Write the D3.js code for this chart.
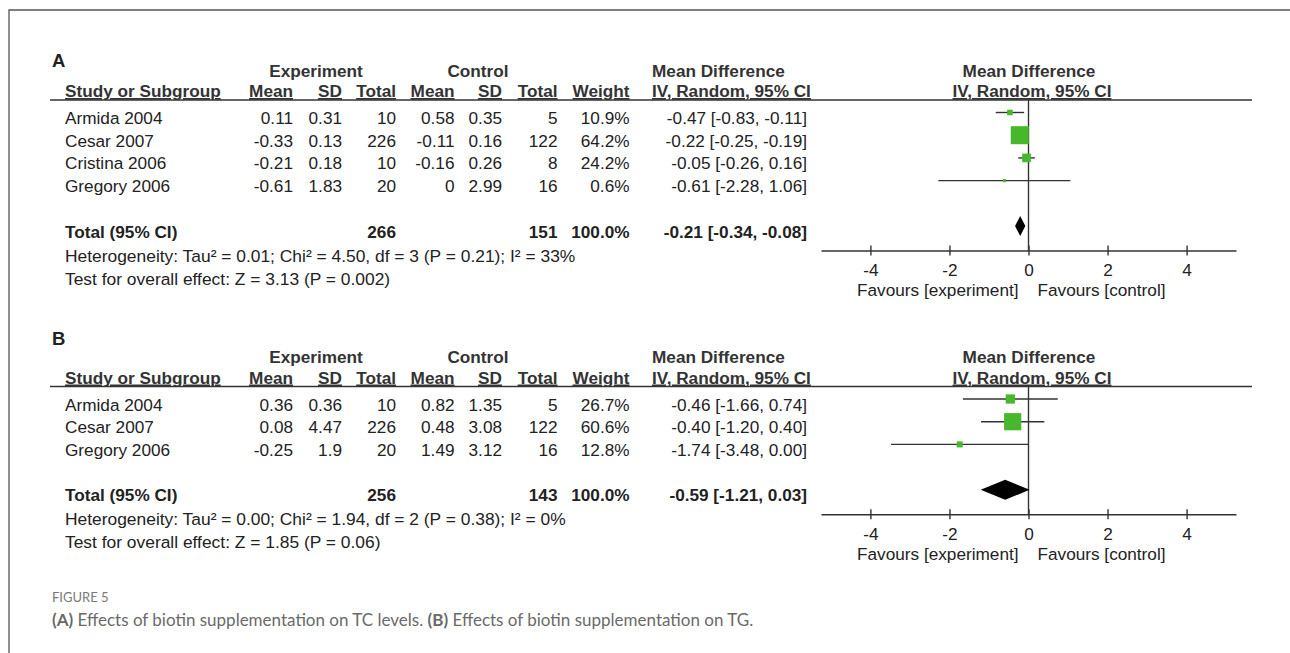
<!DOCTYPE html>
<html>
<head>
<meta charset="utf-8">
<script src="https://cdn.jsdelivr.net/npm/d3@7"></script>
<style>
  body { margin: 0; background: #fff; }
  text { font-family: 'Liberation Sans', Arial, sans-serif; font-size: 17.2px; fill: #222; }
  .bold { font-weight: bold; }
  .head { font-weight: bold; fill: #333; }
  .ul { text-decoration: underline; }
  .caption { font-family: Lato, 'Open Sans', sans-serif; }
</style>
</head>
<body>
<svg id="chart" width="1290" height="653"></svg>
<script>
/* global d3 */

// panel A: TC levels
var studiesA = ['Armida 2004', 'Cesar 2007', 'Cristina 2006', 'Gregory 2006']
var expMeanA = [0.11, -0.33, -0.21, -0.61]
var expSdA = [0.31, 0.13, 0.18, 1.83]
var expNA = [10, 226, 10, 20]
var ctlMeanA = [0.58, -0.11, -0.16, 0]
var ctlSdA = [0.35, 0.16, 0.26, 2.99]
var ctlNA = [5, 122, 8, 16]
var weightA = [10.9, 64.2, 24.2, 0.6]
var mdA = [-0.47, -0.22, -0.05, -0.61]
var loA = [-0.83, -0.25, -0.26, -2.28]
var hiA = [-0.11, -0.19, 0.16, 1.06]
var totalA = {expN: 266, ctlN: 151, md: -0.21, lo: -0.34, hi: -0.08}
var hetA = 'Heterogeneity: Tau² = 0.01; Chi² = 4.50, df = 3 (P = 0.21); I² = 33%'
var testA = 'Test for overall effect: Z = 3.13 (P = 0.002)'

// panel B: TG
var studiesB = ['Armida 2004', 'Cesar 2007', 'Gregory 2006']
var expMeanB = [0.36, 0.08, -0.25]
var expSdB = [0.36, 4.47, 1.9]
var expNB = [10, 226, 20]
var ctlMeanB = [0.82, 0.48, 1.49]
var ctlSdB = [1.35, 3.08, 3.12]
var ctlNB = [5, 122, 16]
var weightB = [26.7, 60.6, 12.8]
var mdB = [-0.46, -0.40, -1.74]
var loB = [-1.66, -1.20, -3.48]
var hiB = [0.74, 0.40, 0.00]
var totalB = {expN: 256, ctlN: 143, md: -0.59, lo: -1.21, hi: 0.03}
var hetB = 'Heterogeneity: Tau² = 0.00; Chi² = 1.94, df = 2 (P = 0.38); I² = 0%'
var testB = 'Test for overall effect: Z = 1.85 (P = 0.06)'

var axisTicks = [-4, -2, 0, 2, 4]
var axisDomain = [-5.25, 5.25]
var favours = ['Favours [experiment]', 'Favours [control]']

function buildRows (studies, expMean, expSd, expN, ctlMean, ctlSd, ctlN, weight, md, lo, hi) {
  return studies.map(function (s, i) {
    return {
      study: s,
      expMean: String(expMean[i]),
      expSD: String(expSd[i]),
      expN: String(expN[i]),
      ctlMean: String(ctlMean[i]),
      ctlSD: String(ctlSd[i]),
      ctlN: String(ctlN[i]),
      weight: weight[i].toFixed(1) + '%',
      w: weight[i],
      md: md[i],
      lo: lo[i],
      hi: hi[i]
    }
  })
}

var svg = d3.select('#chart')

// frame, top and left edges only
svg.append('path')
  .attr('d', 'M9,653V10H1290')
  .attr('fill', 'none')
  .attr('stroke', '#555')
  .attr('stroke-width', 1.3)

var cols = [
  {key: 'expMean', x: 293, head: 'Mean'},
  {key: 'expSD', x: 342, head: 'SD'},
  {key: 'expN', x: 396, head: 'Total'},
  {key: 'ctlMean', x: 454.5, head: 'Mean'},
  {key: 'ctlSD', x: 502, head: 'SD'},
  {key: 'ctlN', x: 557.5, head: 'Total'},
  {key: 'weight', x: 629.5, head: 'Weight'}
]
var ciRight = 807

var x = d3.scaleLinear().domain(axisDomain).range([821, 1236])
var size = d3.scaleLinear().domain([0, 100]).range([3, 26.4])

function ci (d) {
  return d.md.toFixed(2) + ' [' + d.lo.toFixed(2) + ', ' + d.hi.toFixed(2) + ']'
}

function drawPanel (p) {
  var g = svg.append('g').attr('transform', 'translate(0,' + p.dy + ')')
  var n = p.rows.length
  var rowY = d3.scaleLinear().domain([0, 1]).range([124, 124 + 22.7])
  var totalY = rowY(n + 1)
  var axisY = totalY + 13
  var mark = -11.5

  g.append('text').attr('class', 'bold').attr('x', 52).attr('y', p.labelY)
    .style('font-size', '18.5px').text(p.label)

  // group headers
  g.append('text').attr('class', 'head').attr('x', 316).attr('y', 76.5)
    .attr('text-anchor', 'middle').text('Experiment')
  g.append('text').attr('class', 'head').attr('x', 478).attr('y', 76.5)
    .attr('text-anchor', 'middle').text('Control')
  g.append('text').attr('class', 'head').attr('x', 652).attr('y', 76.5).text('Mean Difference')
  g.append('text').attr('class', 'head').attr('x', 1029).attr('y', 76.5)
    .attr('text-anchor', 'middle').text('Mean Difference')

  // column headers
  g.append('text').attr('class', 'head ul').attr('x', 65).attr('y', 97).text('Study or Subgroup')
  g.selectAll('.colhead')
      .data(cols)
    .enter().append('text')
      .attr('class', 'head ul')
      .attr('x', function (d) { return d.x })
      .attr('y', 97)
      .attr('text-anchor', 'end')
      .text(function (d) { return d.head })
  g.append('text').attr('class', 'head ul').attr('x', 652).attr('y', 97).text('IV, Random, 95% CI')
  g.append('text').attr('class', 'head ul').attr('x', 1032).attr('y', 97)
    .attr('text-anchor', 'middle').text('IV, Random, 95% CI')

  g.append('line')
    .attr('x1', 50).attr('x2', 1252).attr('y1', 100).attr('y2', 100)
    .attr('stroke', '#333').attr('stroke-width', 1.4)

  // study rows
  var row = g.selectAll('.row')
      .data(p.rows)
    .enter().append('g')
      .attr('transform', function (d, i) { return 'translate(0,' + rowY(i) + ')' })
  row.append('text').attr('x', 65).text(function (d) { return d.study })
  cols.forEach(function (c) {
    row.append('text').attr('x', c.x).attr('text-anchor', 'end')
      .text(function (d) { return d[c.key] })
  })
  row.append('text').attr('x', ciRight).attr('text-anchor', 'end').text(ci)

  // total row
  var t = p.total
  g.append('text').attr('class', 'bold').attr('x', 65).attr('y', totalY).text('Total (95% CI)')
  g.append('text').attr('class', 'bold').attr('x', cols[2].x).attr('y', totalY)
    .attr('text-anchor', 'end').text(t.expN)
  g.append('text').attr('class', 'bold').attr('x', cols[5].x).attr('y', totalY)
    .attr('text-anchor', 'end').text(t.ctlN)
  g.append('text').attr('class', 'bold').attr('x', cols[6].x).attr('y', totalY)
    .attr('text-anchor', 'end').text('100.0%')
  g.append('text').attr('class', 'bold').attr('x', ciRight).attr('y', totalY)
    .attr('text-anchor', 'end').text(ci(t))

  g.append('text').attr('x', 65).attr('y', totalY + 24).style('font-size', '17.4px').text(p.het)
  g.append('text').attr('x', 65).attr('y', totalY + 47).style('font-size', '17.4px').text(p.test)

  // zero line
  g.append('line')
    .attr('x1', x(0)).attr('x2', x(0)).attr('y1', 100).attr('y2', axisY)
    .attr('stroke', '#333').attr('stroke-width', 1.4)

  // confidence intervals
  g.selectAll('.ci')
      .data(p.rows)
    .enter().append('line')
      .attr('x1', function (d) { return x(d.lo) })
      .attr('x2', function (d) { return x(d.hi) })
      .attr('y1', function (d, i) { return rowY(i) + mark })
      .attr('y2', function (d, i) { return rowY(i) + mark })
      .attr('stroke', '#333')
      .attr('stroke-width', 1.4)

  // weight squares
  g.selectAll('.sq')
      .data(p.rows)
    .enter().append('rect')
      .attr('fill', '#47b82b')
      .attr('x', function (d) { return x(d.md) - size(d.w) / 2 })
      .attr('y', function (d, i) { return rowY(i) + mark - size(d.w) / 2 })
      .attr('width', function (d) { return size(d.w) })
      .attr('height', function (d) { return size(d.w) })

  // pooled diamond
  var dy = totalY + mark
  g.append('path')
    .attr('d', 'M' + x(t.lo) + ',' + dy + 'L' + x(t.md) + ',' + (dy - 10) +
      'L' + x(t.hi) + ',' + dy + 'L' + x(t.md) + ',' + (dy + 10) + 'Z')
    .attr('fill', '#000')

  // x axis
  var ax = g.append('g')
    .attr('transform', 'translate(0,' + axisY + ')')
    .call(d3.axisBottom(x).tickValues(axisTicks).tickSizeInner(5).tickSizeOuter(0)
      .tickFormat(function (d) { return String(d) }))
  ax.attr('font-size', null).attr('font-family', null)
  ax.select('.domain').attr('stroke', '#333').attr('stroke-width', 1.4)
  ax.selectAll('.tick line').attr('y1', -5).attr('y2', 5)
    .attr('stroke', '#333').attr('stroke-width', 1.4)
  ax.selectAll('.tick text').attr('y', 13)

  g.append('text').attr('x', x(0) - 10).attr('y', axisY + 45.5)
    .attr('text-anchor', 'end').text(favours[0])
  g.append('text').attr('x', x(0) + 9).attr('y', axisY + 45.5).text(favours[1])
}

drawPanel({
  label: 'A',
  labelY: 67,
  dy: 0,
  rows: buildRows(studiesA, expMeanA, expSdA, expNA, ctlMeanA, ctlSdA, ctlNA, weightA, mdA, loA, hiA),
  total: totalA,
  het: hetA,
  test: testA
})

drawPanel({
  label: 'B',
  labelY: 58,
  dy: 286.5,
  rows: buildRows(studiesB, expMeanB, expSdB, expNB, ctlMeanB, ctlSdB, ctlNB, weightB, mdB, loB, hiB),
  total: totalB,
  het: hetB,
  test: testB
})

// caption
svg.append('text').attr('class', 'caption').attr('x', 52).attr('y', 601.5)
  .style('font-size', '13px').style('fill', '#7a7a7a').text('FIGURE 5')
var cap = svg.append('text').attr('class', 'caption').attr('x', 52).attr('y', 625.5)
  .style('font-size', '17px').style('fill', '#6a6a6a')
cap.append('tspan').style('font-weight', 'bold').text('(A)')
cap.append('tspan').text(' Effects of biotin supplementation on TC levels. ')
cap.append('tspan').style('font-weight', 'bold').text('(B)')
cap.append('tspan').text(' Effects of biotin supplementation on TG.')
</script>
</body>
</html>
